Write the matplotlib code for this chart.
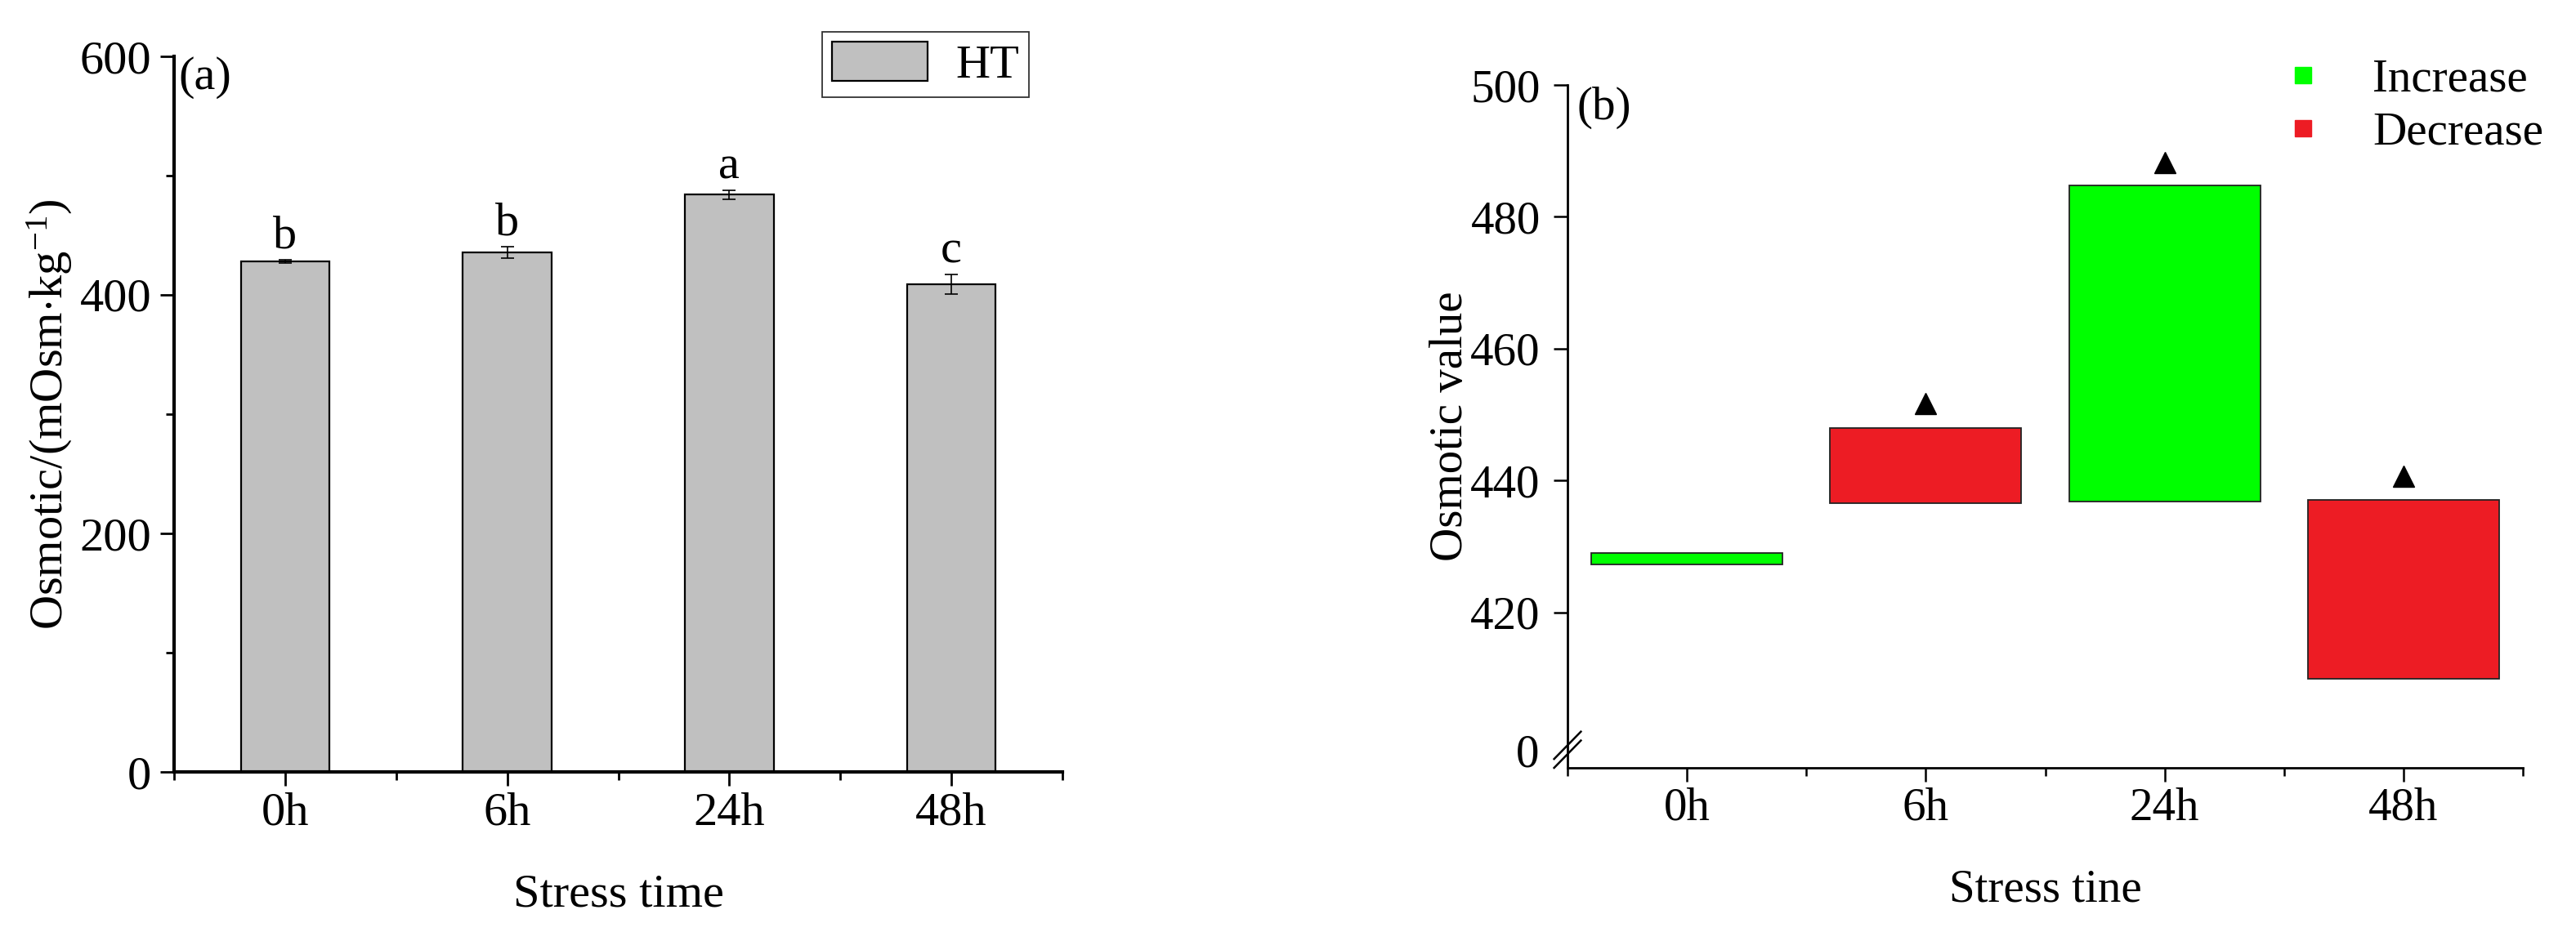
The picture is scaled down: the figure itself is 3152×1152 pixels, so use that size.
import numpy as np
import matplotlib
matplotlib.use('Agg')
import matplotlib.pyplot as plt
from matplotlib.lines import Line2D
from matplotlib.ticker import MultipleLocator, FixedLocator

plt.rcParams['font.family'] = ['Liberation Serif', 'DejaVu Serif']
plt.rcParams['mathtext.fontset'] = 'custom'
plt.rcParams['mathtext.rm'] = 'Liberation Serif'
plt.rcParams['mathtext.it'] = 'Liberation Serif:italic'

# data
hours = ['0h', '6h', '24h', '48h']
ht_mean = [428.0, 435.5, 484.0, 409.0]
ht_err = [1.5, 5.0, 3.8, 8.3]
letters = ['b', 'b', 'a', 'c']

bar_low = [427.2, 436.5, 436.8, 409.9]
bar_high = [429.0, 448.0, 484.7, 437.0]
bar_kind = ['Increase', 'Decrease', 'Increase', 'Decrease']
tri_hours = ['6h', '24h', '48h']
tri_values = [451.7, 488.2, 440.6]

kind_colors = {'Increase': '#00FF00', 'Decrease': '#ED1C24'}
FS = 42

W, H = 3152, 1152
fig = plt.figure(figsize=(W / 100, H / 100), dpi=100)

def ax_rect(x0, x1, ytop, ybot):
    return [x0 / W, 1 - ybot / H, (x1 - x0) / W, (ybot - ytop) / H]

# ---------------- panel (a) ----------------
ax1 = fig.add_axes(ax_rect(213, 1300, 69, 945))
x = np.arange(len(hours))
ax1.bar(x, ht_mean, width=0.4, color='#C0C0C0', edgecolor='black', linewidth=1.6,
        label='HT', zorder=2)
ax1.errorbar(x, ht_mean, yerr=ht_err, fmt='none', ecolor='black', elinewidth=1.2,
             capsize=6, capthick=1.2, zorder=3)
for xi, m, e, t in zip(x, ht_mean, ht_err, letters):
    ax1.text(xi, m + e + 10, t, ha='center', va='baseline', fontsize=FS)

ax1.set_xlim(-0.5, 3.5)
ax1.set_ylim(0, 600)
ax1.set_xticks(x)
ax1.set_xticklabels(hours)
ax1.xaxis.set_minor_locator(FixedLocator(np.arange(-0.5, 3.6, 1.0)))
ax1.yaxis.set_major_locator(MultipleLocator(200))
ax1.yaxis.set_minor_locator(MultipleLocator(100))
for s in ['top', 'right']:
    ax1.spines[s].set_visible(False)
for s in ['left', 'bottom']:
    ax1.spines[s].set_linewidth(3)
ax1.tick_params(axis='both', which='major', length=12, width=2, labelsize=FS)
ax1.tick_params(axis='both', which='minor', length=7, width=2)
ax1.tick_params(axis='y', which='major', pad=8)
ax1.tick_params(axis='x', which='major', pad=6)
ax1.set_xlabel('Stress time', fontsize=FS)
ax1.set_ylabel(r'Osmotic/(mOsm$\cdot$kg$^{-1}$)', fontsize=FS)
ax1.xaxis.set_label_coords(0.5, -0.142)
ax1.yaxis.set_label_coords(-0.112, 0.5)
fig.text(218 / W, 1 - 95 / H, '(a)', ha='left', va='center', fontsize=FS)

leg1 = ax1.legend(loc='upper right', bbox_to_anchor=(1259 / W, 1 - 39 / H),
                  bbox_transform=fig.transFigure, fontsize=FS, frameon=True,
                  fancybox=False, borderaxespad=0, borderpad=0.2,
                  handlelength=2.0, handleheight=0.9, handletextpad=0.6)
leg1.get_frame().set_edgecolor('black')
leg1.get_frame().set_linewidth(1.3)

# ---------------- panel (b) ----------------
ax2 = fig.add_axes(ax_rect(1918, 3087, 104, 940))
for xi, lo, hi, k in zip(x, bar_low, bar_high, bar_kind):
    ax2.bar(xi, hi - lo, bottom=lo, width=0.8, color=kind_colors[k],
            edgecolor='#222222', linewidth=1.3, zorder=2)
tri_x = [hours.index(h) for h in tri_hours]
ax2.plot(tri_x, tri_values, linestyle='none', marker='^', color='black',
         markersize=19, zorder=3)

ymin2 = 396.4
ax2.set_xlim(-0.5, 3.5)
ax2.set_ylim(ymin2, 500)
ax2.set_xticks(x)
ax2.set_xticklabels(hours)
ax2.xaxis.set_minor_locator(FixedLocator(np.arange(-0.5, 3.6, 1.0)))
ax2.set_yticks([420, 440, 460, 480, 500])
for s in ['top', 'right']:
    ax2.spines[s].set_visible(False)
for s in ['left', 'bottom']:
    ax2.spines[s].set_linewidth(2)
ax2.tick_params(axis='both', which='major', length=12, width=1.8, labelsize=FS - 1)
ax2.tick_params(axis='x', which='minor', length=7, width=1.8)
ax2.tick_params(axis='y', which='major', pad=12)
ax2.tick_params(axis='x', which='major', pad=5)
ax2.set_xlabel('Stress tine', fontsize=FS - 1)
ax2.set_ylabel('Osmotic value', fontsize=FS - 1)
ax2.xaxis.set_label_coords(0.5, -0.148)
ax2.yaxis.set_label_coords(-0.1, 0.5)
ax2.text(-0.03, 0.018, '0', transform=ax2.transAxes, ha='right', va='center',
         fontsize=FS - 1)
# axis break marks
for dy in (0.0, 0.013):
    ax2.add_line(Line2D([-0.014, 0.014], [dy, dy + 0.04], transform=ax2.transAxes,
                        color='black', linewidth=1.8, clip_on=False))
fig.text(1929 / W, 1 - 132 / H, '(b)', ha='left', va='center', fontsize=FS - 1)

handles = [Line2D([], [], linestyle='none', marker='s', markersize=15,
                  color=kind_colors[k]) for k in ['Increase', 'Decrease']]
ax2.legend(handles, ['Increase', 'Decrease'], loc='upper right',
           bbox_to_anchor=(3112 / W, 1 - 72 / H), bbox_transform=fig.transFigure,
           frameon=False, fontsize=FS - 1, borderaxespad=0, borderpad=0,
           handletextpad=1.0, labelspacing=0.22, handlelength=1.0)

fig.savefig('out.png', dpi=100)
